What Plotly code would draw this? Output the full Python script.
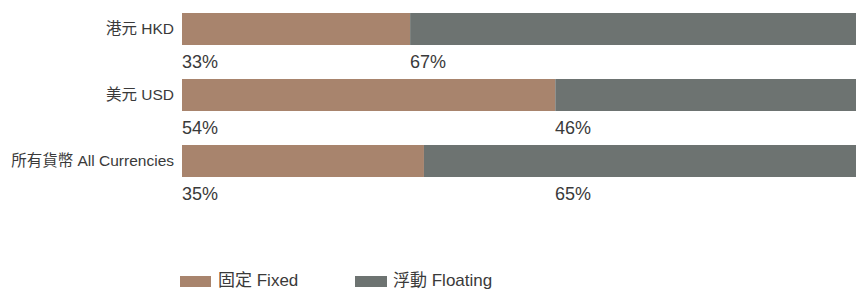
import plotly.graph_objects as go

categories = ["港元 HKD", "美元 USD", "所有貨幣 All Currencies"]
fixed = [33, 54, 35]
floating = [67, 46, 65]
fixed_labels = ["33%", "54%", "35%"]
floating_labels = ["67%", "46%", "65%"]
# position (in % units) where each floating label starts, as drawn in the original
floating_label_pos = [33, 54, 54]
legend_names = ["固定 Fixed", "浮動 Floating"]

C_FIXED = "#a8846d"
C_FLOAT = "#6d7371"
TXT = "#3a3a3a"
FONT = "Liberation Sans, Arial, Noto Sans CJK TC, sans-serif"

ypos = list(range(len(categories)))

fig = go.Figure()
fig.add_trace(go.Bar(y=ypos, x=fixed, orientation="h", marker=dict(color=C_FIXED, line=dict(width=0)),
                     width=0.485, name=legend_names[0], showlegend=False, hoverinfo="skip"))
fig.add_trace(go.Bar(y=ypos, x=floating, base=fixed, orientation="h", marker=dict(color=C_FLOAT, line=dict(width=0)),
                     width=0.485, name=legend_names[1], showlegend=False, hoverinfo="skip"))

ann = []
for i in ypos:
    ann.append(dict(x=0, y=i + 0.5, xref="x", yref="y", text=fixed_labels[i], showarrow=False, xshift=-2,
                    xanchor="left", yanchor="middle", font=dict(size=18, color=TXT, family=FONT)))
    ann.append(dict(x=floating_label_pos[i], y=i + 0.5, xref="x", yref="y", text=floating_labels[i], showarrow=False,
                    xshift=-2, xanchor="left", yanchor="middle", font=dict(size=18, color=TXT, family=FONT)))

# legend drawn manually (wide swatches)
W = 674.0
H = 293.0
def px(xp):
    return (xp - 182) / W
def py(yp):
    return 1 - yp / H

shapes = []
for k, (x0, x1, tx) in enumerate([(180, 211, 216), (355, 387, 391)]):
    col = C_FIXED if k == 0 else C_FLOAT
    shapes.append(dict(type="rect", xref="paper", yref="paper", x0=px(x0), x1=px(x1), y0=py(287), y1=py(276),
                       fillcolor=col, line=dict(width=0)))
    ann.append(dict(x=px(tx), y=py(292), xref="paper", yref="paper", text=legend_names[k], showarrow=False,
                    xanchor="left", yanchor="bottom", font=dict(size=17, color=TXT, family=FONT)))

fig.update_layout(
    width=856, height=293,
    margin=dict(l=182, r=0, t=0, b=0),
    barmode="overlay",
    plot_bgcolor="white", paper_bgcolor="white",
    xaxis=dict(range=[0, 97.5], visible=False, fixedrange=True),
    yaxis=dict(range=[4.0, -0.44], tickmode="array", tickvals=ypos, ticktext=categories,
               showgrid=False, zeroline=False, showline=False, ticks="",
               ticklabelstandoff=7, tickfont=dict(size=15.5, color=TXT, family=FONT), fixedrange=True),
    annotations=ann,
    shapes=shapes,
    showlegend=False,
)

fig.write_html("out.html", config={"displayModeBar": False},
               post_script="document.body.style.margin='0';document.body.style.overflow='hidden';")
